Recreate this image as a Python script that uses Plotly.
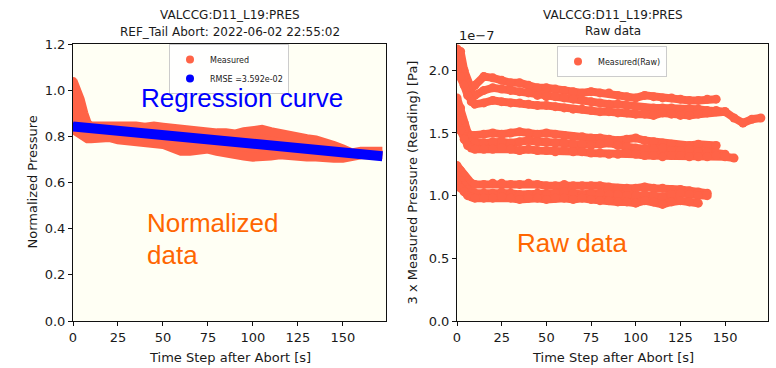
import plotly.graph_objects as go

# ---------------- data ----------------
# Left panel: normalized data (band envelopes) and regression curve
T_NORM = [0, 2, 4, 6, 8, 10, 15, 20, 25, 30, 35, 40, 45, 50, 55, 60, 65, 70, 75, 80,
          85, 90, 95, 100, 105, 110, 115, 120, 125, 130, 135, 140, 145, 150, 155, 160, 165, 172]
NORM_UPPER = [1.04, 1.01, 0.96, 0.90, 0.855, 0.845, 0.845, 0.845, 0.85, 0.85, 0.845, 0.84, 0.845,
              0.84, 0.835, 0.83, 0.83, 0.825, 0.82, 0.815, 0.815, 0.81, 0.82, 0.825, 0.83, 0.82,
              0.81, 0.80, 0.795, 0.79, 0.785, 0.775, 0.76, 0.745, 0.728, 0.735, 0.735, 0.735]
NORM_LOWER = [0.83, 0.82, 0.81, 0.795, 0.79, 0.79, 0.79, 0.795, 0.785, 0.78, 0.775, 0.775, 0.77,
              0.765, 0.75, 0.735, 0.735, 0.745, 0.745, 0.735, 0.725, 0.72, 0.715, 0.71, 0.71,
              0.715, 0.72, 0.715, 0.715, 0.71, 0.71, 0.705, 0.705, 0.705, 0.715, 0.72, 0.72, 0.72]
REG_T = [0, 10, 20, 30, 40, 50, 60, 70, 80, 90, 100, 110, 120, 130, 140, 150, 160, 172]
REG_V = [0.843, 0.836, 0.828, 0.821, 0.813, 0.806, 0.798, 0.791, 0.783, 0.776, 0.768, 0.761,
         0.753, 0.746, 0.738, 0.731, 0.723, 0.714]

# Right panel: raw data runs (units of 1e-7 Pa)
T_RAW = [0, 2, 4, 6, 8, 10, 15, 20, 25, 30, 35, 40, 45, 50, 55, 60, 65, 70, 75, 80, 85,
         90, 95, 100, 105, 110, 115, 120, 125, 130, 135, 140, 145, 150, 155, 160, 165, 170]
RUN_A = [2.17, 2.15, 2.00, 1.90, 1.85, 1.88, 1.95, 1.94, 1.92, 1.90, 1.90, 1.88, 1.86, 1.86,
         1.85, 1.84, 1.83, 1.82, 1.83, 1.82, 1.82, 1.80, 1.79, 1.78, 1.80, 1.79, 1.78, 1.78,
         1.77, 1.76, 1.76, 1.77, 1.77]
RUN_B = [2.10, 2.05, 1.95, 1.85, 1.78, 1.80, 1.84, 1.86, 1.85, 1.84, 1.83, 1.82, 1.80, 1.79,
         1.79, 1.78, 1.77, 1.76, 1.75, 1.74, 1.73, 1.73, 1.72, 1.71, 1.70, 1.70, 1.70, 1.70,
         1.69, 1.69, 1.69, 1.68, 1.68, 1.67, 1.62, 1.58, 1.61, 1.62]
RUN_C = [2.00, 1.95, 1.88, 1.80, 1.75, 1.73, 1.74, 1.76, 1.75, 1.74, 1.74, 1.73, 1.72, 1.72,
         1.71, 1.70, 1.69, 1.69, 1.68, 1.67, 1.67, 1.66, 1.66, 1.65, 1.65, 1.64, 1.66, 1.65,
         1.64, 1.64, 1.65, 1.66, 1.67, 1.67]
RUN_D = [1.78, 1.70, 1.58, 1.50, 1.48, 1.48, 1.49, 1.50, 1.49, 1.50, 1.51, 1.50, 1.49, 1.50,
         1.49, 1.48, 1.47, 1.47, 1.46, 1.46, 1.45, 1.44, 1.45, 1.46, 1.44, 1.43, 1.42, 1.41,
         1.40, 1.40, 1.41, 1.40, 1.40]
RUN_E = [1.68, 1.60, 1.52, 1.46, 1.43, 1.42, 1.42, 1.43, 1.43, 1.42, 1.43, 1.44, 1.43, 1.43,
         1.42, 1.42, 1.41, 1.41, 1.40, 1.41, 1.42, 1.40, 1.39, 1.38, 1.37, 1.37, 1.38, 1.36,
         1.36, 1.37, 1.35, 1.35, 1.34, 1.33]
RUN_F = [1.58, 1.52, 1.45, 1.40, 1.38, 1.37, 1.37, 1.37, 1.38, 1.37, 1.36, 1.37, 1.36, 1.36,
         1.35, 1.36, 1.35, 1.35, 1.34, 1.34, 1.33, 1.33, 1.34, 1.33, 1.32, 1.32, 1.31, 1.32,
         1.32, 1.31, 1.31, 1.31, 1.32, 1.31, 1.30]
RUN_G = [1.24, 1.20, 1.16, 1.12, 1.10, 1.09, 1.09, 1.10, 1.10, 1.09, 1.09, 1.10, 1.09, 1.08,
         1.08, 1.09, 1.08, 1.08, 1.08, 1.08, 1.07, 1.06, 1.06, 1.06, 1.07, 1.06, 1.06, 1.05,
         1.05, 1.04, 1.03, 1.02]
RUN_H = [1.16, 1.12, 1.08, 1.05, 1.03, 1.02, 1.02, 1.02, 1.03, 1.02, 1.01, 1.01, 1.02, 1.01,
         1.02, 1.03, 1.02, 1.01, 1.02, 1.02, 1.01, 1.01, 1.00, 1.00, 1.01, 1.00, 0.99, 1.01,
         1.02, 1.01, 1.00, 1.00]
RUN_I = [1.10, 1.06, 1.03, 1.00, 0.99, 0.98, 0.98, 0.98, 0.99, 0.98, 0.97, 0.98, 0.98, 0.97,
         0.98, 0.98, 0.97, 0.98, 0.97, 0.96, 0.96, 0.95, 0.95, 0.94, 0.96, 0.95, 0.93, 0.95,
         0.96, 0.95, 0.94]
RAW_RUNS = [RUN_A, RUN_B, RUN_C, RUN_D, RUN_E, RUN_F, RUN_G, RUN_H, RUN_I]

X_TICKS = [0, 25, 50, 75, 100, 125, 150]
Y_TICKS_L = [0.0, 0.2, 0.4, 0.6, 0.8, 1.0, 1.2]
Y_TICKS_R = [0.0, 0.5, 1.0, 1.5, 2.0]

# ---------------- style ----------------
W, H = 776, 368
TOMATO = "#ff6347"
BLUE = "#0000ff"
ORANGE_TXT = "#ff6600"
BG = "#fffff4"
FONT = "DejaVu Sans"
TXT = "#1a1a1a"

def px(v):
    return v / W

def py(v):
    return 1 - v / H

L_DOM = [px(73), px(386)]
R_DOM = [px(457), px(768)]
Y_DOM = [py(321), py(44)]

fig = go.Figure()

# Left: measured band
fig.add_trace(go.Scatter(x=T_NORM, y=NORM_UPPER, mode="lines", line=dict(color=TOMATO, width=9),
                         showlegend=False, xaxis="x", yaxis="y", hoverinfo="skip"))
fig.add_trace(go.Scatter(x=T_NORM, y=NORM_LOWER, mode="lines", line=dict(color=TOMATO, width=9),
                         fill="tonexty", fillcolor=TOMATO, showlegend=False,
                         xaxis="x", yaxis="y", hoverinfo="skip"))
# Regression curve
fig.add_trace(go.Scatter(x=REG_T, y=REG_V, mode="lines", line=dict(color=BLUE, width=10),
                         showlegend=False, xaxis="x", yaxis="y"))
# Legend entries (left)
fig.add_trace(go.Scatter(x=[T_NORM[0]], y=[NORM_UPPER[0]], mode="markers", name="Measured",
                         marker=dict(color=TOMATO, size=8), legend="legend",
                         xaxis="x", yaxis="y"))
fig.add_trace(go.Scatter(x=[REG_T[0]], y=[REG_V[0]], mode="markers", name="RMSE =3.592e-02",
                         marker=dict(color=BLUE, size=8), legend="legend",
                         xaxis="x", yaxis="y"))

# Right: raw runs
for run in RAW_RUNS:
    fig.add_trace(go.Scatter(x=T_RAW[:len(run)], y=run, mode="lines+markers",
                             line=dict(color=TOMATO, width=8),
                             marker=dict(color=TOMATO, size=9),
                             showlegend=False, xaxis="x2", yaxis="y2"))
fig.add_trace(go.Scatter(x=[T_RAW[0]], y=[RUN_A[0]], mode="markers", name="Measured(Raw)",
                         marker=dict(color=TOMATO, size=8), legend="legend2",
                         xaxis="x2", yaxis="y2"))

axis_common = dict(showgrid=False, zeroline=False, showline=True, linecolor="#111",
                   linewidth=1, mirror=True, ticks="outside", ticklen=4, tickwidth=1,
                   tickcolor="#111", tickfont=dict(family=FONT, size=13, color=TXT),
                   automargin=False)

fig.update_layout(
    width=W, height=H,
    margin=dict(l=0, r=0, t=0, b=0),
    paper_bgcolor="white", plot_bgcolor=BG,
    font=dict(family=FONT, color=TXT),
    xaxis=dict(domain=L_DOM, range=[0, 174], tickvals=X_TICKS, anchor="y", **axis_common),
    yaxis=dict(domain=Y_DOM, range=[0, 1.2], tickvals=Y_TICKS_L, tickformat=".1f",
               anchor="x", **axis_common),
    xaxis2=dict(domain=R_DOM, range=[0, 174], tickvals=X_TICKS, anchor="y2", **axis_common),
    yaxis2=dict(domain=Y_DOM, range=[0, 2.21], tickvals=Y_TICKS_R, tickformat=".1f",
                anchor="x2", **axis_common),
    legend=dict(x=px(229), y=py(44), xanchor="center", yanchor="top",
                bgcolor="rgba(255,255,255,0.85)", bordercolor="#cccccc", borderwidth=1,
                font=dict(family=FONT, size=8, color=TXT), itemwidth=30,
                tracegroupgap=0, itemsizing="trace", traceorder="normal"),
    legend2=dict(x=px(612), y=py(46), xanchor="center", yanchor="top",
                 bgcolor="rgba(255,255,255,0.85)", bordercolor="#cccccc", borderwidth=1,
                 font=dict(family=FONT, size=8, color=TXT), itemwidth=30,
                 itemsizing="trace", traceorder="normal"),
)

ann = []
def add_text(text, x, y, size, color=TXT, family=FONT, xanchor="center", angle=0):
    ann.append(dict(text=text, x=px(x), y=py(y), xref="paper", yref="paper",
                    xanchor=xanchor, yanchor="middle", showarrow=False, textangle=angle,
                    font=dict(family=family, size=size, color=color)))

# Titles
add_text("VALCCG:D11_L19:PRES", 229.5, 15, 12)
add_text("REF_Tail Abort: 2022-06-02 22:55:02", 229.5, 32, 12)
add_text("VALCCG:D11_L19:PRES", 612.5, 15, 12)
add_text("Raw data", 612.5, 31, 12)
# Axis titles
add_text("Time Step after Abort [s]", 229.5, 357, 13)
add_text("Time Step after Abort [s]", 612.5, 357, 13)
add_text("Normalized Pressure", 32, 182.5, 13, angle=-90)
add_text("3 x Measured Pressure (Reading) [Pa]", 412, 182.5, 13, angle=-90)
# offset text
add_text("1e\u22127", 457, 35, 13, xanchor="left")
# Overlay labels
add_text("Regression curve", 139, 98, 26, color=BLUE, family="Liberation Sans", xanchor="left")
add_text("Normalized", 145, 223, 26, color=ORANGE_TXT, family="Liberation Sans", xanchor="left")
add_text("data", 145, 255, 26, color=ORANGE_TXT, family="Liberation Sans", xanchor="left")
add_text("Raw data", 515, 243, 26, color=ORANGE_TXT, family="Liberation Sans", xanchor="left")

fig.update_layout(annotations=ann)
fig.write_html("out.html")
